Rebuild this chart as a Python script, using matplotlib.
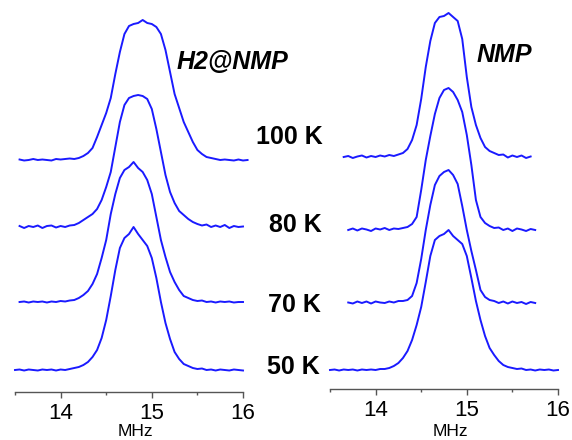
import numpy as np
import matplotlib
matplotlib.use("Agg")
import matplotlib.pyplot as plt
from matplotlib.ticker import MultipleLocator

N = None
# frequency grid (MHz)
freq = [13.50, 13.55, 13.60, 13.65, 13.70, 13.75, 13.80, 13.85, 13.90, 13.95,
        14.00, 14.05, 14.10, 14.15, 14.20, 14.25, 14.30, 14.35, 14.40, 14.45,
        14.50, 14.55, 14.60, 14.65, 14.70, 14.75, 14.80, 14.85, 14.90, 14.95,
        15.00, 15.05, 15.10, 15.15, 15.20, 15.25, 15.30, 15.35, 15.40, 15.45,
        15.50, 15.55, 15.60, 15.65, 15.70, 15.75, 15.80, 15.85, 15.90, 15.95,
        16.00, 16.05]

temps = ["100 K", "80 K", "70 K", "50 K"]

# H2@NMP spectra (intensity, arbitrary units)
h2_100 = [N, 0.005, -0.005, 0.00, 0.01, 0.00, 0.005, 0.00, -0.005, 0.01,
          0.005, 0.01, 0.015, 0.01, 0.02, 0.04, 0.07, 0.12, 0.23, 0.35,
          0.47, 0.62, 0.86, 1.08, 1.26, 1.34, 1.36, 1.37, 1.40, 1.37,
          1.36, 1.33, 1.26, 1.10, 0.88, 0.66, 0.52, 0.38, 0.28, 0.18,
          0.10, 0.06, 0.03, 0.02, 0.01, 0.00, 0.005, 0.00, -0.005, 0.005,
          -0.005, 0.00]
h2_80 = [N, 0.01, -0.01, 0.01, 0.00, 0.015, -0.01, 0.01, 0.015, -0.005,
         0.01, 0.00, 0.015, 0.02, 0.04, 0.07, 0.10, 0.13, 0.18, 0.27,
         0.40, 0.55, 0.80, 1.05, 1.22, 1.29, 1.31, 1.32, 1.31, 1.28,
         1.18, 0.98, 0.75, 0.52, 0.35, 0.24, 0.16, 0.12, 0.08, 0.05,
         0.03, 0.015, 0.025, 0.00, 0.015, 0.00, 0.02, -0.01, 0.01, 0.00,
         0.005, N]
h2_70 = [N, 0.00, 0.005, -0.005, 0.005, 0.00, 0.005, -0.005, 0.005, 0.00,
         0.01, 0.005, 0.015, 0.02, 0.04, 0.07, 0.11, 0.18, 0.28, 0.44,
         0.62, 0.88, 1.08, 1.24, 1.32, 1.35, 1.40, 1.34, 1.30, 1.22,
         1.08, 0.85, 0.62, 0.45, 0.30, 0.20, 0.12, 0.06, 0.04, 0.02,
         0.01, 0.015, 0.00, 0.005, -0.005, 0.005, 0.00, 0.005, -0.005, 0.00,
         0.00, N]
h2_50 = [0.00, 0.005, -0.005, 0.005, 0.00, -0.005, 0.005, 0.00, 0.005, -0.005,
         0.005, 0.00, 0.01, 0.02, 0.03, 0.05, 0.08, 0.13, 0.20, 0.32,
         0.50, 0.74, 1.00, 1.22, 1.32, 1.36, 1.43, 1.36, 1.30, 1.24,
         1.12, 0.92, 0.68, 0.47, 0.31, 0.18, 0.11, 0.06, 0.04, 0.02,
         0.01, 0.015, 0.00, 0.005, -0.005, 0.005, 0.00, -0.005, 0.005, 0.00,
         -0.005, N]

# NMP spectra
nmp_100 = [N, N, N, 0.00, 0.01, -0.01, 0.005, 0.015, -0.005, 0.01,
           0.00, 0.015, 0.005, 0.02, 0.01, 0.025, 0.04, 0.08, 0.17, 0.32,
           0.58, 0.90, 1.16, 1.34, 1.40, 1.41, 1.44, 1.40, 1.36, 1.18,
           0.80, 0.50, 0.32, 0.19, 0.10, 0.06, 0.04, 0.02, 0.025, -0.005,
           0.015, 0.00, 0.015, -0.01, 0.005, N, N, N, N, N,
           N, N]
nmp_80 = [N, N, N, N, 0.00, 0.015, -0.005, 0.015, 0.005, -0.01,
          0.015, 0.005, 0.02, 0.00, 0.015, 0.01, 0.02, 0.03, 0.06, 0.13,
          0.40, 0.70, 0.94, 1.16, 1.32, 1.40, 1.42, 1.38, 1.30, 1.18,
          0.95, 0.65, 0.30, 0.13, 0.07, 0.04, 0.02, 0.025, 0.00, 0.015,
          -0.01, 0.015, 0.005, -0.01, 0.01, 0.00, N, N, N, N,
          N, N]
nmp_70 = [N, N, N, N, 0.005, -0.005, 0.015, 0.00, 0.015, -0.005,
          0.015, 0.005, 0.00, 0.015, 0.005, 0.02, 0.02, 0.03, 0.07, 0.20,
          0.44, 0.73, 0.98, 1.18, 1.27, 1.31, 1.33, 1.28, 1.19, 0.97,
          0.73, 0.52, 0.33, 0.13, 0.06, 0.03, 0.02, 0.00, 0.015, -0.005,
          0.015, 0.00, 0.01, -0.01, 0.01, 0.00, N, N, N, N,
          N, N]
nmp_50 = [0.00, 0.005, -0.005, 0.005, 0.00, 0.005, -0.005, 0.005, 0.00, 0.005,
          0.00, 0.01, 0.01, 0.02, 0.04, 0.07, 0.12, 0.19, 0.30, 0.45,
          0.63, 0.88, 1.14, 1.30, 1.34, 1.36, 1.40, 1.34, 1.30, 1.26,
          1.14, 0.92, 0.69, 0.50, 0.34, 0.22, 0.15, 0.09, 0.05, 0.03,
          0.02, 0.01, 0.015, 0.00, 0.005, -0.005, 0.005, 0.00, 0.005, -0.005,
          0.00, N]

# vertical stacking offsets of each spectrum
h2_offsets = [2.32, 1.65, 0.90, 0.22]
nmp_offsets = [2.32, 1.59, 0.86, 0.19]

xticks = [14, 15, 16]

plt.rcParams['font.family'] = ['Liberation Sans', 'DejaVu Sans']

W, H = 572, 440
fig = plt.figure(figsize=(W / 100, H / 100), dpi=100)

def px_axes(x0, x1, ybot, ytop):
    return fig.add_axes([x0 / W, 1 - ybot / H, (x1 - x0) / W, (ybot - ytop) / H])

ax_l = px_axes(15, 243, 392, 5)
ax_r = px_axes(330, 558, 389, 5)

blue = '#1a1aff'
fx = np.array(freq)

def to_arr(v):
    return np.array([np.nan if a is None else a for a in v], dtype=float)

for ax, series, offs, ytop in [
        (ax_l, [h2_100, h2_80, h2_70, h2_50], h2_offsets, 3.87),
        (ax_r, [nmp_100, nmp_80, nmp_70, nmp_50], nmp_offsets, 3.84)]:
    for s, o in zip(series, offs):
        ax.plot(fx, to_arr(s) + o, color=blue, lw=1.4, clip_on=False,
                solid_joinstyle='round')
    ax.set_xlim(13.5, 16)
    ax.set_ylim(0, ytop)
    for sp in ['top', 'left', 'right']:
        ax.spines[sp].set_visible(False)
    ax.spines['bottom'].set_color('#555555')
    ax.spines['bottom'].set_linewidth(1.0)
    ax.set_yticks([])
    ax.set_xticks(xticks)
    ax.xaxis.set_minor_locator(MultipleLocator(0.5))
    ax.tick_params(axis='x', which='major', direction='out', length=4,
                   width=1, color='#555555', labelsize=16, pad=4)
    ax.tick_params(axis='x', which='minor', direction='out', length=2.5,
                   width=1, color='#555555')
    ax.set_xlabel('MHz', fontsize=12.5, va='bottom')
    ax.patch.set_alpha(0)

ax_l.xaxis.set_label_coords(0.53, -(439 - 392) / 387)
ax_r.xaxis.set_label_coords(0.53, -(439 - 389) / 384)

fig.text(177 / W, 1 - 62 / H, 'H2@NMP', fontsize=18, fontweight='bold',
         fontstyle='italic', ha='left', va='center')
fig.text(477 / W, 1 - 55 / H, 'NMP', fontsize=18, fontweight='bold',
         fontstyle='italic', ha='left', va='center')

label_pos = [(323, 137), (322, 225), (321, 305), (320, 367)]
for t, (x, y) in zip(temps, label_pos):
    fig.text(x / W, 1 - y / H, t, fontsize=18, fontweight='bold',
             ha='right', va='center')

fig.savefig('out.png', dpi=100)
